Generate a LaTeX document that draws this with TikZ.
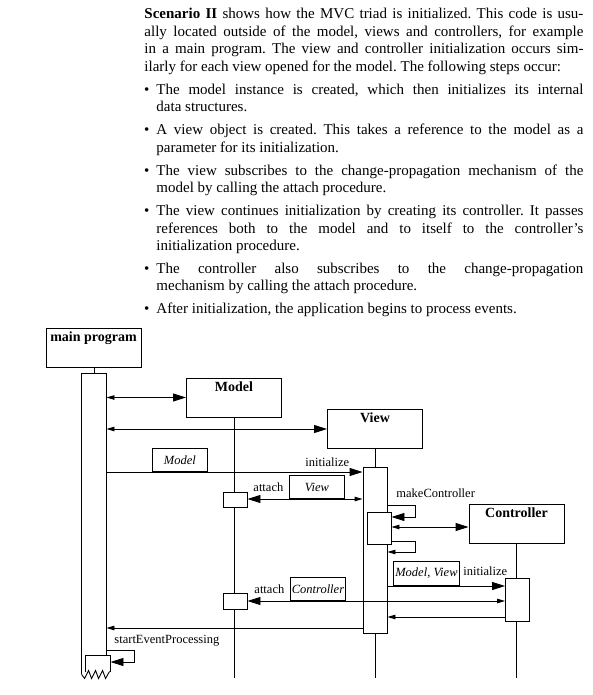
\documentclass[tikz,border=0pt]{standalone}
\usepackage{fontspec}
\setmainfont{Liberation Serif}
\usepackage{tikz}
\usetikzlibrary{arrows.meta}
\frenchspacing
\tikzset{
  calltip/.tip={Triangle[length=13pt,width=8pt]},
  rettip/.tip={Triangle[length=8pt,width=4.5pt]},
  objbox/.style={draw, fill=white, inner sep=0pt, minimum width=95pt, minimum height=39pt},
  objtitle/.style={anchor=base, inner sep=0pt, font=\fontsize{14}{17}\selectfont\bfseries},
  actbar/.style={draw, fill=white, inner sep=0pt, minimum width=24pt},
  param/.style={draw, anchor=south west, inner xsep=1pt, inner ysep=0pt, minimum height=23pt, font=\fontsize{12.5}{14}\selectfont\itshape},
  msglabel/.style={anchor=base west, inner sep=0pt, font=\fontsize{12.5}{14}\selectfont},
  textpara/.style={anchor=north west, inner sep=0pt, align=justify, font=\fontsize{15}{17.5}\selectfont\frenchspacing}
}
\newcommand{\objectbox}[3] {\node at (#1) (#2) [objbox] {}; \node at ([yshift=-13.5pt]#2.north) (#2-title) [objtitle] {#3};}
\newcommand{\activation}[3] {\node at (#1) (#2) [actbar, minimum height=#3pt] {};}
\newcommand{\callmsg}[3] {\draw [-calltip] (#1 |- #3) -- (#2 |- #3);}
\newcommand{\createmsg}[3] {\draw [rettip-calltip] (#1 |- #3) -- (#2 |- #3);}
\newcommand{\returnmsg}[3] {\draw [-rettip] (#1 |- #3) -- (#2 |- #3);}
\newcommand{\selfmsg}[6] {\draw [-#6] (#1 |- #4) -- (#3 |- #4) |- (#2 |- #5);}

\begin{document}
\begin{tikzpicture}[x=1pt, y=-1pt, line width=0.9pt]
\useasboundingbox (0,0) rectangle (593,695);

% text above the diagram
\node at (144,6.25) (intro) [textpara, text width=439pt] {\strut\textbf{Scenario II} shows how the MVC triad is initialized. This code is usu-\linebreak ally located outside of the model, views and controllers, for example\linebreak in a main program. The view and controller initialization occurs sim-\linebreak ilarly for each view opened for the model. The following steps occur:};
\node at (156,81.65) (step1) [textpara, text width=427pt] {\strut\llap{\textbullet\hspace{7pt}}The model instance is created, which then initializes its internal\linebreak data structures.};
\node at (156,122.05) (step2) [textpara, text width=427pt] {\strut\llap{\textbullet\hspace{7pt}}A view object is created. This takes a reference to the model as a\linebreak parameter for its initialization.};
\node at (156,162.45) (step3) [textpara, text width=427pt] {\strut\llap{\textbullet\hspace{7pt}}The view subscribes to the change-propagation mechanism of the\linebreak model by calling the attach procedure.};
\node at (156,202.85) (step4) [textpara, text width=427pt] {\strut\llap{\textbullet\hspace{7pt}}The view continues initialization by creating its controller. It passes\linebreak references both to the model and to itself to the controller's\linebreak initialization procedure.};
\node at (156,260.75) (step5) [textpara, text width=427pt] {\strut\llap{\textbullet\hspace{7pt}}The controller also subscribes to the change-propagation\linebreak mechanism by calling the attach procedure.};
\node at (156,301.15) (step6) [textpara, text width=427pt] {\strut\llap{\textbullet\hspace{7pt}}After initialization, the application begins to process events.};

% objects
\objectbox {93.5,347.5} {main} {main program}
\objectbox {234,397.5} {model} {Model}
\objectbox {375,429} {view} {View}
\objectbox {516.5,523.5} {controller} {Controller}

% message levels
\coordinate (end) at (0,678);
\coordinate (m3) at (0,472);
\coordinate (m4) at (0,499);
\coordinate (m5a) at (0,505);
\coordinate (m5b) at (0,517);
\coordinate (m6) at (0,527);
\coordinate (m7a) at (0,541);
\coordinate (m7b) at (0,552);
\coordinate (m8) at (0,586);
\coordinate (m9) at (0,601);
\coordinate (m10) at (0,617);
\coordinate (m11) at (0,628);
\coordinate (m12a) at (0,650);
\coordinate (m12b) at (0,662);
\coordinate (vloop) at (415,0);
\coordinate (mloop) at (134,0);

% lifelines
\draw (model.south) -- (model.south |- end);
\draw (view.south) -- (view.south |- end);
\draw (controller.south) -- (controller.south |- end);

% activations
\node at (94,524) (mainbar) [fill=white, inner sep=0pt, minimum width=24pt, minimum height=300pt] {};
\draw (mainbar.north |- main.south) -- (mainbar.north);
\node at (98,664) (mainsub) [fill=white, inner sep=0pt, minimum width=24pt, minimum height=16pt] {};
\draw (mainbar.south west) -- (mainbar.north west) -- (mainbar.north east) -- (mainbar.east |- mainsub.north);
\draw (mainsub.south west) |- (mainsub.north east) -- (mainsub.south east);
\draw (mainbar.south west) -- ++(3,4) -- ++(4,-8) -- ++(3,8) -- ++(4,-8) -- ++(3,8) -- ++(4,-8) -- ++(3,8) -- ++(4,-7);
\activation {375,550} {viewbar} {166}
\activation {379,528} {viewsub} {32}
\activation {517.5,599.5} {ctrlbar} {43}
\activation {235,499.5} {modelsub1} {15}
\activation {235,601} {modelsub2} {16}

% messages
\createmsg {mainbar.east} {model.west} {model}
\createmsg {mainbar.east} {view.west} {view}
\callmsg {mainbar.east} {viewbar.west} {m3}
\node at (152,472) (pmodel) [param, minimum width=55pt] {Model};
\node at (305,466) (init1) [msglabel] {initialize};
\createmsg {viewbar.west} {modelsub1.east} {m4}
\node at (289,499) (pview) [param, minimum width=55pt] {View};
\node at (253,491) (attach1) [msglabel] {attach};
\selfmsg {viewbar.east} {viewsub.east} {vloop} {m5a} {m5b} {calltip}
\node at (396,497) (makectrl) [msglabel] {makeController};
\createmsg {viewsub.east} {controller.west} {m6}
\selfmsg {viewsub.east} {viewbar.east} {vloop} {m7a} {m7b} {rettip}
\callmsg {viewbar.east} {ctrlbar.west} {m8}
\node at (393,586) (pmv) [param, minimum width=66pt, minimum height=24pt] {Model, View};
\node at (463,575) (init2) [msglabel] {initialize};
\createmsg {ctrlbar.west} {modelsub2.east} {m9}
\node at (290,601) (pctrl) [param, minimum width=55pt] {Controller};
\node at (254,593) (attach2) [msglabel] {attach};
\returnmsg {ctrlbar.west} {viewbar.east} {m10}
\returnmsg {viewbar.west} {mainbar.east} {m11}
\selfmsg {mainbar.east} {mainsub.east} {mloop} {m12a} {m12b} {calltip}
\node at (114,643) (startev) [msglabel] {startEventProcessing};
\end{tikzpicture}
\end{document}
